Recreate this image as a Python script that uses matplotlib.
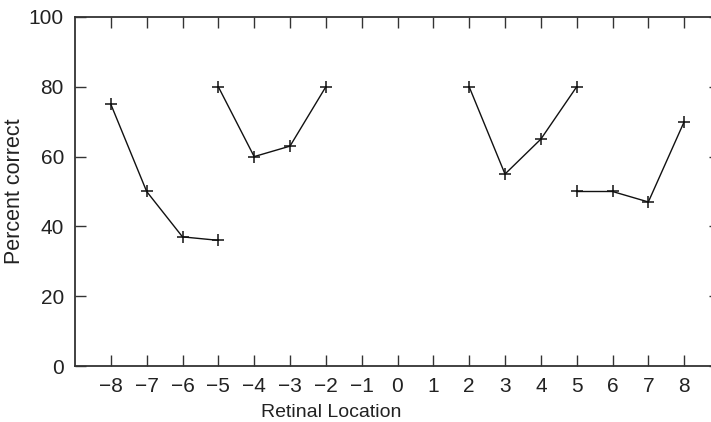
import matplotlib.pyplot as plt
import matplotlib.transforms as mtransforms

plt.rcParams['font.family'] = ['Liberation Sans', 'DejaVu Sans']

# Retinal location segments (x) and percent correct (y)
seg1_x = [-8, -7, -6, -5]
seg1_y = [75, 50, 37, 36]
seg2_x = [-5, -4, -3, -2]
seg2_y = [80, 60, 63, 80]
seg3_x = [2, 3, 4, 5]
seg3_y = [80, 55, 65, 80]
seg4_x = [5, 6, 7, 8]
seg4_y = [50, 50, 47, 70]

xticks = list(range(-8, 9))
yticks = [0, 20, 40, 60, 80, 100]

fig = plt.figure(figsize=(7.11, 4.22), dpi=100)
# axes run slightly past the right edge of the figure, as in the reference
ax = fig.add_axes([75 / 711, 1 - 366 / 422, 645 / 711, 349 / 422])

for xs, ys in [(seg1_x, seg1_y), (seg2_x, seg2_y), (seg3_x, seg3_y), (seg4_x, seg4_y)]:
    ax.plot(xs, ys, color='#111111', lw=1.0, marker='+', markersize=9, mew=1.1)

ax.set_xlim(-9, 9)
ax.set_ylim(0, 100)
ax.set_xticks(xticks)
ax.set_yticks(yticks)

for s in ax.spines.values():
    s.set_color('#333333')
    s.set_linewidth(1.3)

ax.tick_params(direction='in', length=8, width=1.0, color='#333333',
               top=True, right=True, labelsize=15, labelcolor='#222222')
ax.tick_params(axis='x', pad=8)
ax.tick_params(axis='y', pad=8)

ax.set_xlabel('Retinal Location', fontsize=14, color='#222222', va='bottom')
trans = mtransforms.blended_transform_factory(ax.transAxes, fig.transFigure)
ax.xaxis.set_label_coords(0.397, 1 / 422, transform=trans)
ax.set_ylabel('Percent correct', fontsize=15.5, color='#222222')
ax.yaxis.set_label_coords(-0.077, 0.5)

fig.savefig('out.png', dpi=100)
